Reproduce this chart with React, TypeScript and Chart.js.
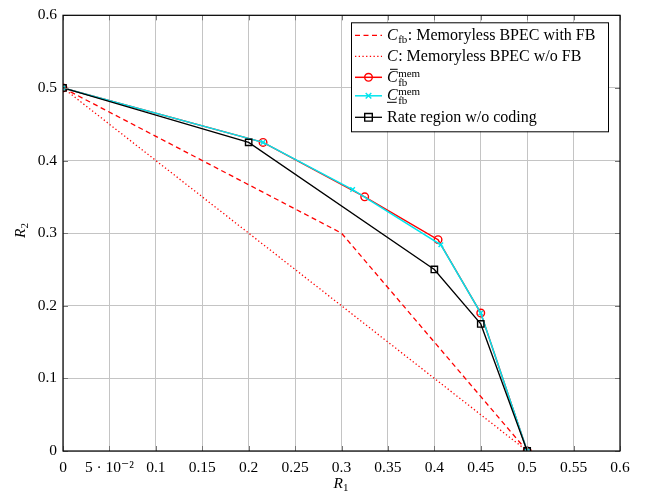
import React, { useEffect, useRef } from "react";
import { Chart, registerables } from "chart.js";

Chart.register(...registerables);

// ---- data ----
const fbX = [0, 0.3, 0.5];
const fbY = [0.5, 0.3, 0];
const noFbX = [0, 0.5];
const noFbY = [0.5, 0];
const barMemX = [0, 0.2155, 0.325, 0.404, 0.45, 0.5];
const barMemY = [0.5, 0.425, 0.35, 0.291, 0.19, 0];
const underMemX = [0, 0.2155, 0.312, 0.407, 0.45, 0.5];
const underMemY = [0.5, 0.425, 0.36, 0.284, 0.19, 0];
const noCodeX = [0, 0.2, 0.4, 0.45, 0.5];
const noCodeY = [0.5, 0.425, 0.25, 0.175, 0];

const xTickValues = [0, 0.05, 0.1, 0.15, 0.2, 0.25, 0.3, 0.35, 0.4, 0.45, 0.5, 0.55, 0.6];
const xTickLabels = ["0", "5 · 10⁻²", "0.1", "0.15", "0.2", "0.25", "0.3", "0.35", "0.4", "0.45", "0.5", "0.55", "0.6"];
const yTickValues = [0, 0.1, 0.2, 0.3, 0.4, 0.5, 0.6];
const yTickLabels = ["0", "0.1", "0.2", "0.3", "0.4", "0.5", "0.6"];

const SERIF = "'Liberation Serif', 'DejaVu Serif', serif";

const pts = (xs: number[], ys: number[]) => xs.map((x, i) => ({ x, y: ys[i] }));

function drawMarker(ctx: CanvasRenderingContext2D, kind: string, x: number, y: number, color: string) {
  ctx.save();
  ctx.strokeStyle = color;
  ctx.lineWidth = 1.4;
  ctx.setLineDash([]);
  ctx.beginPath();
  if (kind === "circle") {
    ctx.arc(x, y, 3.8, 0, Math.PI * 2);
  } else if (kind === "cross") {
    ctx.moveTo(x - 2.8, y - 2.8); ctx.lineTo(x + 2.8, y + 2.8);
    ctx.moveTo(x - 2.8, y + 2.8); ctx.lineTo(x + 2.8, y - 2.8);
  } else if (kind === "square") {
    ctx.rect(x - 3.8, y - 3.8, 7.6, 7.6);
  }
  ctx.stroke();
  ctx.restore();
}

const framePlugin = {
  id: "frame",
  afterDatasetsDraw(chart: any) {
    const ctx: CanvasRenderingContext2D = chart.ctx;
    const a = chart.chartArea;
    const xs = chart.scales.x;
    const ys = chart.scales.y;
    ctx.save();
    // tick marks (inward, both sides)
    ctx.strokeStyle = "#777";
    ctx.lineWidth = 1;
    ctx.beginPath();
    xTickValues.forEach((v) => {
      const px = Math.round(xs.getPixelForValue(v)) + 0.5;
      ctx.moveTo(px, a.bottom); ctx.lineTo(px, a.bottom - 5);
      ctx.moveTo(px, a.top); ctx.lineTo(px, a.top + 5);
    });
    yTickValues.forEach((v) => {
      const py = Math.round(ys.getPixelForValue(v)) + 0.5;
      ctx.moveTo(a.left, py); ctx.lineTo(a.left + 5, py);
      ctx.moveTo(a.right, py); ctx.lineTo(a.right - 5, py);
    });
    ctx.stroke();
    // frame
    ctx.strokeStyle = "#000";
    ctx.lineWidth = 1.2;
    ctx.strokeRect(a.left, a.top, a.right - a.left, a.bottom - a.top);

    // axis titles
    ctx.fillStyle = "#000";
    ctx.textBaseline = "alphabetic";
    ctx.textAlign = "left";
    const cx = (a.left + a.right) / 2;
    ctx.font = `italic 15.5px ${SERIF}`;
    const rw = ctx.measureText("R").width;
    ctx.fillText("R", cx - 8, 488);
    ctx.font = `11px ${SERIF}`;
    ctx.fillText("1", cx - 8 + rw, 491);

    ctx.save();
    ctx.translate(25, 238);
    ctx.rotate(-Math.PI / 2);
    ctx.font = `italic 15.5px ${SERIF}`;
    ctx.fillText("R", 0, 0);
    ctx.font = `11px ${SERIF}`;
    ctx.fillText("2", rw, 3);
    ctx.restore();

    // legend
    const w = 257, h = 109;
    const x0 = a.right - 12 - w;
    const y0 = a.top + 7;
    ctx.fillStyle = "#fff";
    ctx.fillRect(x0, y0, w, h);
    ctx.strokeStyle = "#000";
    ctx.lineWidth = 1;
    ctx.strokeRect(x0 + 0.5, y0 + 0.5, w, h);

    const rows = [13, 34, 55, 73.5, 95];
    const sx0 = x0 + 4, sx1 = x0 + 31, smid = (sx0 + sx1) / 2;
    const tx = x0 + 36;
    const styles = [
      { color: "#ff0000", dash: [5, 3.5], lw: 1.3, marker: "" },
      { color: "#ff0000", dash: [1.3, 2.4], lw: 1.3, marker: "" },
      { color: "#ff0000", dash: [], lw: 1.5, marker: "circle" },
      { color: "#00e5ee", dash: [], lw: 1.5, marker: "cross" },
      { color: "#000000", dash: [], lw: 1.3, marker: "square" },
    ];
    styles.forEach((s, i) => {
      const yy = y0 + rows[i];
      ctx.save();
      ctx.strokeStyle = s.color;
      ctx.lineWidth = s.lw;
      ctx.setLineDash(s.dash);
      ctx.beginPath();
      ctx.moveTo(sx0, yy); ctx.lineTo(sx1, yy);
      ctx.stroke();
      ctx.restore();
      if (s.marker) drawMarker(ctx, s.marker, smid, yy, s.color);
    });

    ctx.fillStyle = "#000";
    const big = `16px ${SERIF}`;
    const bigIt = `italic 16px ${SERIF}`;
    const small = `11px ${SERIF}`;
    // row 1
    let b = y0 + rows[0] + 5;
    ctx.font = bigIt; ctx.fillText("C", tx, b);
    let cw = ctx.measureText("C").width;
    ctx.font = small; ctx.fillText("fb", tx + cw + 0.5, b + 3);
    let fw = ctx.measureText("fb").width;
    ctx.font = big; ctx.fillText(": Memoryless BPEC with FB", tx + cw + fw + 1, b);
    // row 2
    b = y0 + rows[1] + 5;
    ctx.font = bigIt; ctx.fillText("C", tx, b);
    ctx.font = big; ctx.fillText(": Memoryless BPEC w/o FB", tx + cw + 0.5, b);
    // row 3
    b = y0 + rows[2] + 5;
    ctx.font = bigIt; ctx.fillText("C", tx, b);
    ctx.fillRect(tx + 3, b - 13.5, cw - 3, 1);
    ctx.font = small;
    ctx.fillText("mem", tx + cw + 0.5, b - 5);
    ctx.fillText("fb", tx + cw + 0.5, b + 4);
    // row 4
    b = y0 + rows[3] + 4;
    ctx.font = bigIt; ctx.fillText("C", tx, b);
    ctx.fillRect(tx, b + 2, cw - 1, 1);
    ctx.font = small;
    ctx.fillText("mem", tx + cw + 0.5, b - 5);
    ctx.fillText("fb", tx + cw + 0.5, b + 4);
    // row 5
    b = y0 + rows[4] + 5;
    ctx.font = big; ctx.fillText("Rate region w/o coding", tx, b);
    ctx.restore();
  },
};

export default function App() {
  const ref = useRef<HTMLCanvasElement | null>(null);
  useEffect(() => {
    document.body.style.margin = "0";
    const canvas = ref.current!;
    const chart = new Chart(canvas, {
      type: "line",
      data: {
        datasets: [
          {
            data: pts(fbX, fbY), borderColor: "#ff0000", borderWidth: 1.3, borderDash: [5, 3.5],
            pointRadius: 0, order: 5,
          },
          {
            data: pts(noFbX, noFbY), borderColor: "#ff0000", borderWidth: 1.3, borderDash: [1.3, 2.4],
            pointRadius: 0, order: 6,
          },
          {
            data: pts(barMemX, barMemY), borderColor: "#ff0000", borderWidth: 1.5,
            pointStyle: "circle", pointRadius: 3.8, pointBorderWidth: 1.4, pointBorderColor: "#ff0000",
            pointBackgroundColor: "rgba(0,0,0,0)", order: 4,
          },
          {
            data: pts(underMemX, underMemY), borderColor: "#00e5ee", borderWidth: 1.5,
            pointStyle: "crossRot", pointRadius: 3.2, pointBorderWidth: 1.4, pointBorderColor: "#00e5ee",
            pointBackgroundColor: "#00e5ee", order: 3,
          },
          {
            data: pts(noCodeX, noCodeY), borderColor: "#000000", borderWidth: 1.3,
            pointStyle: "rect", pointRadius: 4.5, pointBorderWidth: 1.4, pointBorderColor: "#000000",
            pointBackgroundColor: "rgba(0,0,0,0)", order: 2,
          },
        ],
      },
      options: {
        animation: false,
        responsive: false,
        maintainAspectRatio: false,
        layout: { padding: { left: 0, top: 13, right: 31, bottom: 0 } },
        plugins: { legend: { display: false }, tooltip: { enabled: false }, title: { display: false } },
        elements: { line: { tension: 0, fill: false } },
        scales: {
          x: {
            type: "linear", min: 0, max: 0.6,
            afterBuildTicks: (s: any) => { s.ticks = xTickValues.map((v) => ({ value: v })); },
            afterFit: (s: any) => { s.height = 46; },
            grid: { color: "#c4c4c4", lineWidth: 1, drawTicks: false },
            border: { display: false },
            ticks: {
              autoSkip: false, maxRotation: 0, padding: 8, color: "#000",
              font: { family: SERIF, size: 15.5 },
              callback: (v: any) => {
                const i = xTickValues.findIndex((t) => Math.abs(t - Number(v)) < 1e-9);
                return i >= 0 ? xTickLabels[i] : "";
              },
            },
          },
          y: {
            type: "linear", min: 0, max: 0.6,
            afterBuildTicks: (s: any) => { s.ticks = yTickValues.map((v) => ({ value: v })); },
            afterFit: (s: any) => { s.width = 63; },
            grid: { color: "#c4c4c4", lineWidth: 1, drawTicks: false },
            border: { display: false },
            ticks: {
              autoSkip: false, padding: 6, color: "#000",
              font: { family: SERIF, size: 15.5 },
              callback: (v: any) => {
                const i = yTickValues.findIndex((t) => Math.abs(t - Number(v)) < 1e-9);
                return i >= 0 ? yTickLabels[i] : "";
              },
            },
          },
        },
      },
      plugins: [framePlugin],
    });
    return () => chart.destroy();
  }, []);
  return (
    <div style={{ width: 651, height: 497, background: "#fff" }}>
      <canvas ref={ref} width={651} height={497} style={{ display: "block", width: 651, height: 497 }} />
    </div>
  );
}
